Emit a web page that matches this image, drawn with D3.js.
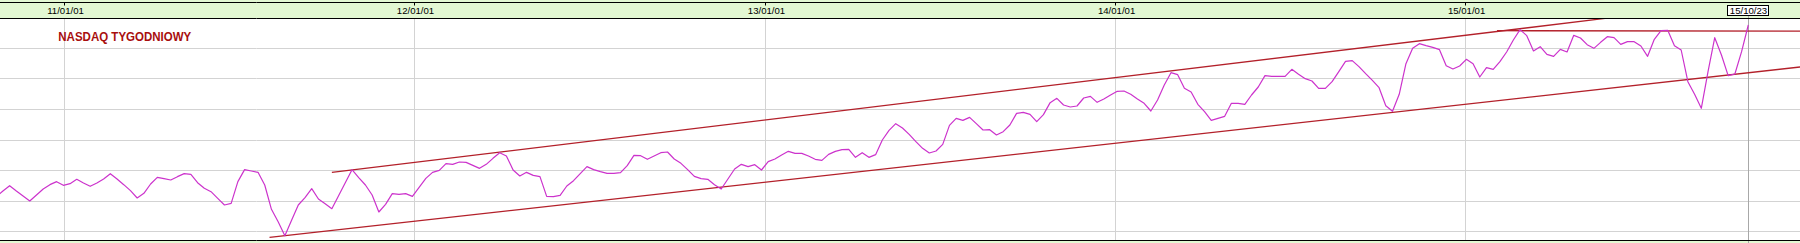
<!DOCTYPE html>
<html><head><meta charset="utf-8">
<script src="https://cdn.jsdelivr.net/npm/d3@7"></script>
<style>html,body{margin:0;padding:0;background:#fff;overflow:hidden}</style>
</head><body><svg id="c" width="1800" height="243"></svg>
<script>
// ---- data ----
const tickDates = ["2011-01-01","2012-01-01","2013-01-01","2014-01-01","2015-01-01"];
const tickLabels = ["11/01/01","12/01/01","13/01/01","14/01/01","15/01/01"];
const lastDate = "2015-10-23";
const lastLabel = "15/10/23";
const firstWeek = "2010-10-22";
const nasdaqWeekly = [
 2512,2563,2611,2563,2518,2473,2527,2581,2620,2647,2614,
 2629,2668,2635,2605,2635,2671,2719,2671,2620,2566,
 2500,2542,2626,2686,2674,2662,2692,2719,2713,2638,
 2587,2557,2497,2437,2452,2647,2755,2743,2731,2617,
 2398,2287,2161,2299,2437,2503,2584,2491,2449,2404,
 2521,2638,2755,2683,2617,2527,2374,2443,2539,2533,
 2539,2515,2596,2677,2731,2749,2809,2803,2824,2821,
 2794,2767,2803,2857,2908,2878,2752,2698,2731,2704,
 2692,2515,2512,2524,2608,2656,2719,2782,2755,2737,
 2722,2722,2728,2791,2884,2881,2848,2878,2908,2914,
 2851,2812,2755,2695,2674,2668,2620,2581,2671,2761,
 2803,2782,2800,2752,2827,2851,2887,2920,2902,2902,
 2878,2848,2839,2893,2920,2935,2938,2866,2908,2866,
 2890,3022,3109,3169,3130,3073,3007,2947,2905,2923,
 2983,3154,3217,3199,3226,3169,3112,3115,3067,3097,
 3157,3262,3271,3253,3187,3250,3358,3397,3337,3319,
 3328,3400,3415,3361,3391,3427,3460,3463,3433,3391,
 3352,3283,3382,3517,3628,3610,3487,3454,3343,3277,
 3199,3217,3235,3352,3352,3343,3427,3499,3601,3595,
 3595,3595,3658,3613,3574,3553,3487,3487,3547,3637,
 3730,3736,3682,3619,3559,3493,3331,3280,3433,3709,
 3847,3889,3871,3856,3835,3691,3661,3688,3748,3709,
 3589,3673,3658,3727,3814,3922,4015,3961,3823,3862,
 3793,3775,3838,3814,3964,3940,3880,3847,3901,3952,
 3943,3883,3907,3907,3868,3775,3928,4006,4009,3871,
 3832,3547,3433,3307,3637,3943,3787,3601,3616,3817,4057
];
const gridValues = [2200, 2470, 2749, 3019, 3298, 3577, 3847];
const channelUpper = [["2011-10-07", 2731], ["2015-06-02", 4123]];
const channelLower = [["2011-08-03", 2146], ["2015-12-16", 3679]];
const resistance   = [["2015-02-03", 4006], ["2015-12-16", 4001]];
const titleText = "NASDAQ  TYGODNIOWY";

// ---- drawing ----
const W = 1800, H = 243;
const plotTop = 18, plotBottom = 240;
const parse = d3.utcParse("%Y-%m-%d");
const svg = d3.select("#c");

const x = d3.scaleUtc()
  .domain([parse("2011-01-01"), parse(lastDate)])
  .range([64.3, 1748.3]);
const y = d3.scaleLinear()
  .domain([2119.3, 4117.3])
  .range([240.3, 18.3]);

const crisp = v => Math.floor(v) + 0.5;
const green = "#e3f8d3";

// background bands
svg.append("rect").attr("x",0).attr("y",0).attr("width",W).attr("height",plotTop).attr("fill",green);
svg.append("rect").attr("x",0).attr("y",plotTop).attr("width",W).attr("height",plotBottom-plotTop).attr("fill","#fff");
svg.append("rect").attr("x",0).attr("y",plotBottom).attr("width",W).attr("height",H-plotBottom).attr("fill",green);

// horizontal grid
svg.append("g").selectAll("line").data(gridValues).join("line")
  .attr("x1",0).attr("x2",W)
  .attr("y1",d=>crisp(y(d))).attr("y2",d=>crisp(y(d)))
  .attr("stroke","#d3d3d3").attr("stroke-width",1);

// vertical grid
const allTicks = tickDates.map(parse);
svg.append("g").selectAll("line").data(allTicks).join("line")
  .attr("x1",d=>crisp(x(d))).attr("x2",d=>crisp(x(d)))
  .attr("y1",plotTop).attr("y2",plotBottom)
  .attr("stroke","#d3d3d3").attr("stroke-width",1);
svg.append("line")
  .attr("x1",crisp(x(parse(lastDate)))).attr("x2",crisp(x(parse(lastDate))))
  .attr("y1",16).attr("y2",plotBottom+3)
  .attr("stroke","#a8a8a8").attr("stroke-width",1);

// clip
svg.append("clipPath").attr("id","plotclip").append("rect")
  .attr("x",0).attr("y",plotTop+0.5).attr("width",W).attr("height",plotBottom-plotTop-1);
const plot = svg.append("g").attr("clip-path","url(#plotclip)");

const seg = d3.line().x(d=>x(parse(d[0]))).y(d=>y(d[1]));
[channelUpper, channelLower, resistance].forEach(s=>{
  plot.append("path").attr("d",seg(s)).attr("fill","none")
    .attr("stroke","#b3202a").attr("stroke-width",1.3);
});

const start = parse(firstWeek);
const series = nasdaqWeekly.map((v,i)=>({date:d3.utcDay.offset(start, 7*i), v}));
plot.append("path").datum(series)
  .attr("d", d3.line().x(d=>x(d.date)).y(d=>y(d.v)))
  .attr("fill","none").attr("stroke","#cc33cc").attr("stroke-width",1.2)
  .attr("stroke-linejoin","round");

// border lines
[2.5, plotTop+0.5, plotBottom+0.5].forEach(yy=>{
  svg.append("line").attr("x1",0).attr("x2",W).attr("y1",yy).attr("y2",yy)
    .attr("stroke","#000").attr("stroke-width",1);
});

// top ticks and labels
svg.append("g").selectAll("line").data(allTicks).join("line")
  .attr("x1",d=>crisp(x(d))).attr("x2",d=>crisp(x(d)))
  .attr("y1",2).attr("y2",5.5).attr("stroke","#000");
svg.append("g").selectAll("text").data(allTicks).join("text")
  .attr("x",d=>x(d)+1.2).attr("y",13.6)
  .attr("text-anchor","middle")
  .attr("font-family","'Liberation Sans', Arial, sans-serif")
  .attr("font-size","9.6px").attr("fill","#000")
  .text((d,i)=>tickLabels[i]);

const lx = x(parse(lastDate));
svg.append("rect").attr("x",Math.round(lx-21)+0.5).attr("y",5.5).attr("width",41).attr("height",10)
  .attr("fill","#fff").attr("stroke","#000").attr("stroke-width",1);
svg.append("text").attr("x",lx+0.2).attr("y",14)
  .attr("text-anchor","middle")
  .attr("font-family","'Liberation Sans', Arial, sans-serif")
  .attr("font-size","9.6px").attr("fill","#000")
  .text(lastLabel);

// title
svg.append("text").attr("x",58.3).attr("y",41)
  .attr("font-family","'Liberation Sans', Arial, sans-serif")
  .attr("font-weight","bold").attr("font-size","12.5px")
  .attr("fill","#a80e0e")
  .attr("textLength",133).attr("lengthAdjust","spacingAndGlyphs")
  .text(titleText);
</script>
</body></html>
